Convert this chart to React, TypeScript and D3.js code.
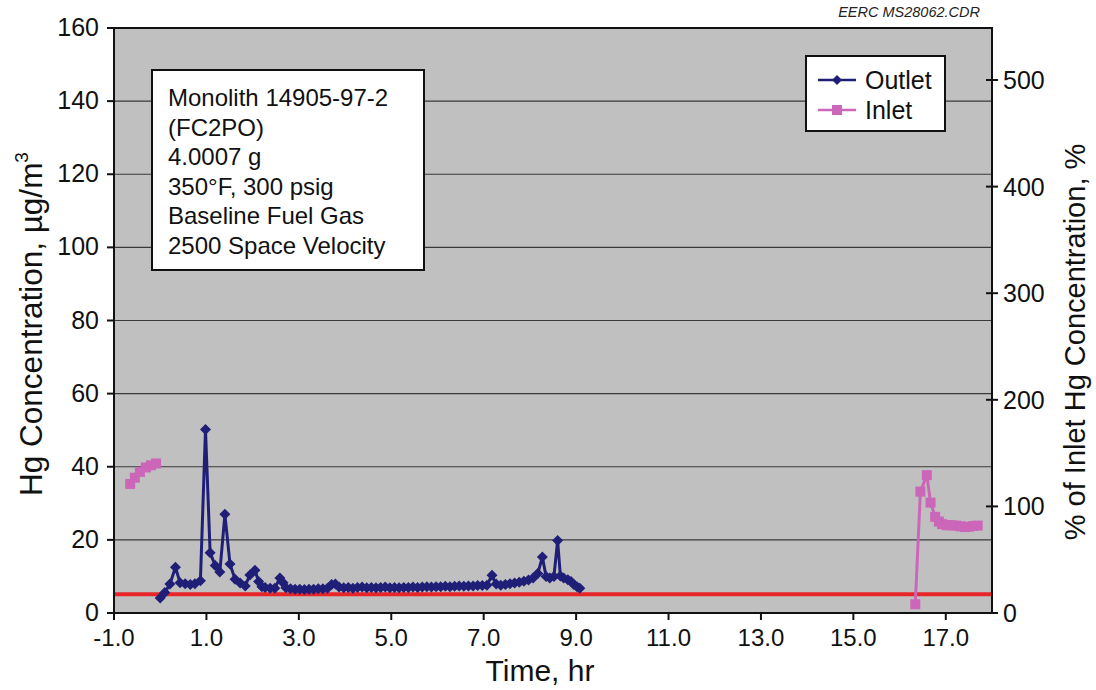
import React from "react";
import * as d3 from "d3";

const outletTime = [0.00,0.10,0.21,0.33,0.43,0.54,0.65,0.75,0.87,0.98,1.08,1.19,1.29,1.40,1.51,1.62,1.73,1.84,1.94,2.05,2.13,2.20,2.27,2.38,2.48,2.59,2.66,2.72,2.82,2.92,3.02,3.12,3.22,3.32,3.42,3.52,3.62,3.71,3.79,3.87,3.97,4.07,4.17,4.27,4.37,4.47,4.57,4.67,4.77,4.87,4.97,5.07,5.17,5.27,5.37,5.47,5.57,5.67,5.77,5.87,5.97,6.07,6.17,6.27,6.37,6.47,6.57,6.67,6.77,6.87,6.97,7.07,7.18,7.27,7.37,7.47,7.57,7.67,7.77,7.87,7.97,8.07,8.17,8.27,8.35,8.43,8.52,8.60,8.66,8.73,8.82,8.89,8.95,9.02,9.08];
const outletHg = [4.1,5.6,7.9,12.5,8.3,8.0,7.8,8.0,8.8,50.2,16.5,13.0,11.2,27.0,13.4,9.2,8.2,7.4,10.4,11.7,8.6,7.2,7.0,6.8,6.8,9.6,8.3,6.9,6.6,6.5,6.5,6.4,6.5,6.5,6.6,6.6,6.8,7.8,7.9,7.1,6.9,7.0,6.8,7.0,7.1,6.9,7.0,6.9,7.0,7.1,6.9,7.0,6.9,7.0,7.0,7.1,7.0,7.1,7.2,7.1,7.2,7.2,7.3,7.2,7.3,7.4,7.3,7.4,7.4,7.5,7.5,7.6,10.3,7.9,7.6,7.8,8.0,8.2,8.4,8.7,9.0,9.6,10.8,15.3,10.0,9.6,10.0,19.8,10.1,9.6,9.1,8.6,7.8,7.2,6.8];

const inletTime = [-0.65,-0.55,-0.44,-0.31,-0.20,-0.09,null,16.34,16.45,16.59,16.67,16.77,16.85,16.92,17.02,17.12,17.22,17.32,17.42,17.50,17.60,17.69];
const inletHg = [35.3,37.0,38.6,39.8,40.4,40.9,null,2.4,33.2,37.7,30.2,26.3,25.0,24.3,24.0,24.0,23.9,23.7,23.5,23.6,23.8,23.9];

const baselineHg = 5.1;

const xTicks = [-1, 1, 3, 5, 7, 9, 11, 13, 15, 17];
const yTicks = [0, 20, 40, 60, 80, 100, 120, 140, 160];
const y2Ticks = [0, 100, 200, 300, 400, 500];

const infoLines = ["Monolith 14905-97-2", "(FC2PO)", "4.0007 g", "350°F, 300 psig", "Baseline Fuel Gas", "2500 Space Velocity"];
const seriesNames = ["Outlet", "Inlet"];

const W = 1096, H = 690;
const L = 114, R = 992, T = 28, B = 613;
const FONT = "'Liberation Sans', Arial, sans-serif";
const OUT_C = "#1f1f78";
const IN_C = "#cc66b8";
const RED = "#e8262a";

export default function App() {
  const x = d3.scaleLinear().domain([-1, 18]).range([L, R]);
  const y = d3.scaleLinear().domain([0, 160]).range([B, T]);
  const y2 = d3.scaleLinear().domain([0, 548.8]).range([B, T]);

  const outlet = outletTime.map((t, i) => ({ t, v: outletHg[i] }));
  const inlet = inletTime.map((t, i) => ({ t, v: inletHg[i] }));

  const line = d3.line<any>()
    .defined((d) => d.t != null && d.v != null)
    .x((d) => x(d.t))
    .y((d) => y(d.v));

  const diamond = (cx: number, cy: number, r: number) =>
    `M${cx},${cy - r}L${cx + r},${cy}L${cx},${cy + r}L${cx - r},${cy}Z`;

  return (
    <svg width={W} height={H} style={{ position: "absolute", left: 0, top: 0, background: "#fff" }} fontFamily={FONT}>
      <rect x={L} y={T} width={R - L} height={B - T} fill="#c0c0c0" />
      {yTicks.filter((v) => v > 0 && v < 160).map((v) => (
        <line key={"g" + v} x1={L} x2={R} y1={y(v)} y2={y(v)} stroke="#3a3a3a" strokeWidth={1.2} />
      ))}
      <text x={980} y={17} fontSize={14.5} fontStyle="italic" textAnchor="end" fill="#222">EERC MS28062.CDR</text>

      {/* baseline red line */}
      <line x1={L} x2={R} y1={y(baselineHg)} y2={y(baselineHg)} stroke={RED} strokeWidth={4} />

      {/* outlet */}
      <path d={line(outlet) || ""} fill="none" stroke={OUT_C} strokeWidth={3} />
      {outlet.map((d, i) => (
        <path key={"o" + i} d={diamond(x(d.t), y(d.v), 5.5)} fill={OUT_C} />
      ))}

      {/* inlet */}
      <path d={line(inlet) || ""} fill="none" stroke={IN_C} strokeWidth={3} />
      {inlet.filter((d) => d.t != null && d.v != null).map((d, i) => (
        <rect key={"i" + i} x={x(d.t as number) - 5} y={y(d.v as number) - 5} width={10} height={10} fill={IN_C} />
      ))}

      {/* frame */}
      <rect x={L} y={T} width={R - L} height={B - T} fill="none" stroke="#111" strokeWidth={2} />

      {/* left axis */}
      {yTicks.map((v) => (
        <g key={"yt" + v}>
          <line x1={L - 7} x2={L} y1={y(v)} y2={y(v)} stroke="#111" strokeWidth={2} />
          <text x={L - 15} y={y(v) + 8} fontSize={25} textAnchor="end" fill="#111">{v}</text>
        </g>
      ))}
      {/* right axis */}
      {y2Ticks.map((v) => (
        <g key={"y2t" + v}>
          <line x1={R - 6} x2={R + 6} y1={y2(v)} y2={y2(v)} stroke="#111" strokeWidth={2} />
          <text x={R + 11} y={y2(v) + 9} fontSize={25} textAnchor="start" fill="#111">{v}</text>
        </g>
      ))}
      {/* x axis */}
      {xTicks.map((v) => (
        <g key={"xt" + v}>
          <line x1={x(v)} x2={x(v)} y1={B} y2={B + 7} stroke="#111" strokeWidth={2} />
          <text x={x(v)} y={B + 33} fontSize={24} textAnchor="middle" fill="#111">{v.toFixed(1)}</text>
        </g>
      ))}

      {/* axis titles */}
      <text x={540} y={681} fontSize={30} textAnchor="middle" fill="#111">Time, hr</text>
      <text transform={`translate(42,324) rotate(-90)`} fontSize={31.5} textAnchor="middle" fill="#111">
        Hg Concentration, µg/m<tspan fontSize={19} dy={-14}>3</tspan>
      </text>
      <text transform={`translate(1085,342) rotate(-90)`} fontSize={29} textAnchor="middle" fill="#111">
        % of Inlet Hg Concentration, %
      </text>

      {/* info box */}
      <rect x={152} y={70} width={272} height={200} fill="#fff" stroke="#111" strokeWidth={2} />
      {infoLines.map((s, i) => (
        <text key={"info" + i} x={168} y={106 + i * 29.6} fontSize={24} fill="#111">{s}</text>
      ))}

      {/* legend */}
      <rect x={806} y={56} width={139} height={75} fill="#fff" stroke="#111" strokeWidth={2} />
      <line x1={818} x2={856} y1={80} y2={80} stroke={OUT_C} strokeWidth={2.5} />
      <path d={diamond(837, 80, 5)} fill={OUT_C} />
      <text x={865} y={89} fontSize={25} fill="#111">{seriesNames[0]}</text>
      <line x1={818} x2={856} y1={110} y2={110} stroke={IN_C} strokeWidth={2.5} />
      <rect x={832} y={105} width={10} height={10} fill={IN_C} />
      <text x={865} y={119} fontSize={25} fill="#111">{seriesNames[1]}</text>
    </svg>
  );
}
